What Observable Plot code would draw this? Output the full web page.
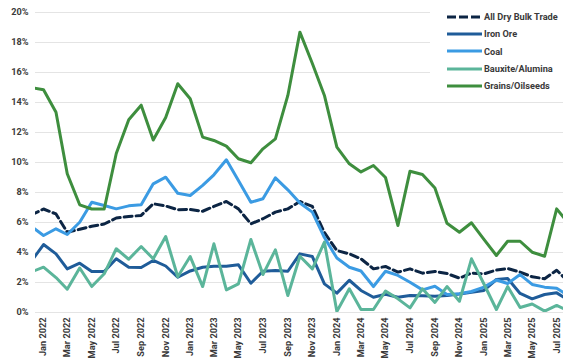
<!DOCTYPE html>
<html>
<head>
<meta charset="utf-8">
<script src="https://cdn.jsdelivr.net/npm/d3@7"></script>
<script src="https://cdn.jsdelivr.net/npm/@observablehq/plot@0.6"></script>
<style>
  body { margin: 0; background: #fff; font-family: Roboto, "Noto Sans", sans-serif; }
  #wrap { position: relative; width: 579px; height: 363px; }
  #legend { position: absolute; left: 430px; top: 0; width: 133px; height: 95px; background: #fff; padding-top: 8px; box-sizing: border-box; }
  .row { display: flex; align-items: center; height: 17.3px; padding-left: 17px; font-size: 9.2px; color: #3a3a3a; font-weight: bold; white-space: nowrap; }
  .row svg { margin-right: 2px; }
</style>
</head>
<body>
<div id="wrap"><div id="legend"></div></div>
<script>
const months = [
  "2021-12",
  "2022-01","2022-02","2022-03","2022-04","2022-05","2022-06","2022-07","2022-08","2022-09","2022-10","2022-11","2022-12",
  "2023-01","2023-02","2023-03","2023-04","2023-05","2023-06","2023-07","2023-08","2023-09","2023-10","2023-11","2023-12",
  "2024-01","2024-02","2024-03","2024-04","2024-05","2024-06","2024-07","2024-08","2024-09","2024-10","2024-11","2024-12",
  "2025-01","2025-02","2025-03","2025-04","2025-05","2025-06","2025-07","2025-08"
];
const allDryBulk = [6.5,
  6.9,6.57,5.35,5.55,5.75,5.9,6.3,6.4,6.47,7.25,7.1,6.85,
  6.87,6.75,7.07,7.4,6.91,5.91,6.25,6.69,6.91,7.4,7.07,5.33,
  4.13,3.91,3.58,2.91,3.07,2.69,2.91,2.62,2.74,2.6,2.29,2.63,
  2.57,2.83,2.93,2.69,2.38,2.25,2.82,2.0];
const ironOre = [3.4,
  4.53,3.91,2.91,3.29,2.73,2.73,3.58,3.02,3.0,3.47,3.1,2.35,
  2.77,3.02,3.09,3.09,3.18,1.95,2.75,2.8,2.75,3.91,3.73,1.91,
  1.29,2.15,1.47,1.02,1.22,1.02,1.13,1.11,1.09,1.13,1.23,1.35,
  1.47,2.2,2.27,1.27,0.91,1.2,1.31,0.81];
const coal = [5.75,
  5.13,5.58,5.2,6.02,7.35,7.13,6.91,7.11,7.18,8.58,9.02,7.95,
  7.8,8.47,9.18,10.18,8.8,7.35,7.58,8.98,8.18,7.3,6.69,5.0,
  3.63,3.02,2.77,1.73,2.75,2.47,2.02,1.51,1.75,1.2,1.25,1.4,
  1.69,2.17,1.93,2.53,1.87,1.69,1.62,1.1];
const bauxite = [2.7,
  3.02,2.33,1.55,2.97,1.73,2.58,4.25,3.55,4.4,3.58,5.07,2.38,
  3.73,1.73,4.58,1.51,1.91,4.87,2.53,4.18,1.13,3.75,2.91,4.69,
  0.07,1.58,0.2,0.2,1.43,0.91,0.31,1.58,0.67,1.73,0.75,3.58,
  1.9,0.2,1.73,0.33,0.57,0.09,0.47,0.1];
const grains = [15.0,
  14.85,13.35,9.25,7.18,6.9,6.9,10.6,12.85,13.82,11.5,13.0,15.25,
  14.25,11.69,11.47,11.09,10.25,9.98,10.91,11.58,14.47,18.69,16.6,14.47,
  11.02,9.91,9.37,9.8,9.0,5.8,9.42,9.2,8.3,5.95,5.35,5.98,
  4.87,3.8,4.75,4.75,4.02,3.75,6.91,5.9];

const seriesNames = ["All Dry Bulk Trade", "Iron Ore", "Coal", "Bauxite/Alumina", "Grains/Oilseeds"];
const seriesValues = [allDryBulk, ironOre, coal, bauxite, grains];
const seriesColors = ["#0c2544", "#1f5c99", "#3b9be3", "#5bb59a", "#3e8e3e"];
const seriesDash = ["8,4", null, null, null, null];

const yTicks = [0, 2, 4, 6, 8, 10, 12, 14, 16, 18, 20];
const xTickLabels = ["2022-01","2022-03","2022-05","2022-07","2022-09","2022-11","2023-01","2023-03","2023-05","2023-07","2023-09","2023-11","2024-01","2024-03","2024-05","2024-07","2024-09","2024-11","2025-01","2025-03","2025-05","2025-07"];

const toDate = m => new Date(m + "-01T00:00:00Z");
const dates = months.map(toDate);
const xTicks = xTickLabels.map(toDate);

const marks = [
  Plot.gridY(yTicks, {stroke: "#e4e4e4", strokeOpacity: 1, strokeWidth: 1}),
  Plot.axisY(yTicks, {tickFormat: d => d + "%", tickSize: 0, tickPadding: 7, label: null, fill: "#3a3a3a", fontWeight: "bold"}),
  Plot.axisX(xTicks, {tickFormat: d3.utcFormat("%b %Y"), tickRotate: -90, tickSize: 0, tickPadding: 5, label: null, fill: "#3a3a3a", fontWeight: "bold"})
];
seriesNames.forEach((name, s) => {
  const rows = dates.map((d, i) => ({date: d, value: seriesValues[s][i]}));
  marks.push(Plot.lineY(rows, {
    x: "date", y: "value",
    stroke: seriesColors[s], strokeWidth: 3,
    strokeDasharray: seriesDash[s] || undefined,
    strokeLinejoin: "round",
    clip: true
  }));
});

const chart = Plot.plot({
  width: 579, height: 363,
  marginTop: 12, marginBottom: 51, marginLeft: 35, marginRight: 16,
  style: {fontFamily: "Roboto, 'Noto Sans', sans-serif", fontSize: "9.2px", background: "#fff"},
  x: {type: "utc", domain: [new Date("2021-12-12T00:00:00Z"), new Date("2025-07-18T00:00:00Z")]},
  y: {domain: [0, 20]},
  marks
});
const wrap = document.getElementById("wrap");
wrap.insertBefore(chart, wrap.firstChild);

const legend = document.getElementById("legend");
seriesNames.forEach((name, s) => {
  const row = document.createElement("div");
  row.className = "row";
  const dash = seriesDash[s] ? ` stroke-dasharray="9,3"` : "";
  row.innerHTML = `<svg width="35" height="6"><line x1="0" y1="3" x2="35" y2="3" stroke="${seriesColors[s]}" stroke-width="3"${dash}/></svg><span>${name}</span>`;
  legend.appendChild(row);
});
</script>
</body>
</html>
